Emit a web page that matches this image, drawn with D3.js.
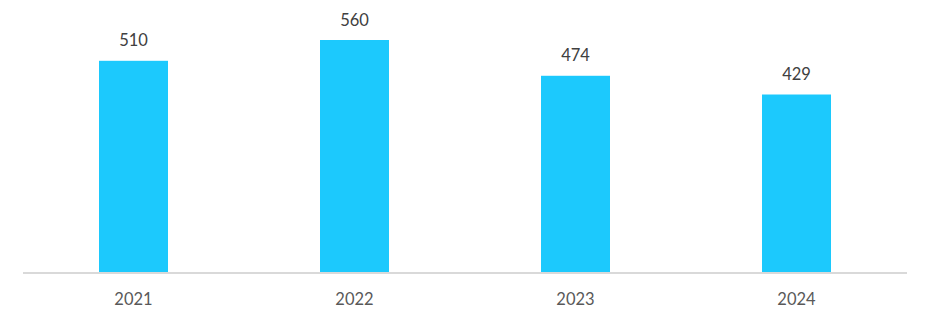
<!DOCTYPE html>
<html><head><meta charset="utf-8">
<script src="https://cdn.jsdelivr.net/npm/d3@7"></script>
<style>body{margin:0;background:#fff}svg{display:block}</style>
</head><body>
<script>
const categories = ["2021","2022","2023","2024"];
const values = [510,560,474,429];

const W=930,H=323;
const svg=d3.select("body").append("svg").attr("width",W).attr("height",H);
const x=d3.scaleBand().domain(categories).range([23,907]).padding(0);
const y=d3.scaleLinear().domain([0,560]).range([273,40]);
const bw=69;
const font="Lato, 'Open Sans', sans-serif";

svg.selectAll("rect.bar").data(categories).join("rect")
  .attr("x",d=>x(d)+(x.bandwidth()-bw)/2)
  .attr("width",bw)
  .attr("y",(d,i)=>y(values[i]))
  .attr("height",(d,i)=>y(0)-y(values[i]))
  .attr("fill","#1cc9fd");

svg.append("line").attr("x1",23).attr("x2",907).attr("y1",273).attr("y2",273)
  .attr("stroke","#d9d9d9").attr("stroke-width",2);

svg.selectAll("text.val").data(categories).join("text")
  .attr("x",d=>x(d)+x.bandwidth()/2)
  .attr("y",(d,i)=>y(values[i])-14.5)
  .attr("text-anchor","middle").attr("font-family",font).attr("font-size",16.5)
  .attr("fill","#404040").text((d,i)=>values[i]);

svg.selectAll("text.tick").data(categories).join("text")
  .attr("x",d=>x(d)+x.bandwidth()/2)
  .attr("y",304.5)
  .attr("text-anchor","middle").attr("font-family",font).attr("font-size",16.5)
  .attr("fill","#595959").text(d=>d);
</script>
</body></html>
